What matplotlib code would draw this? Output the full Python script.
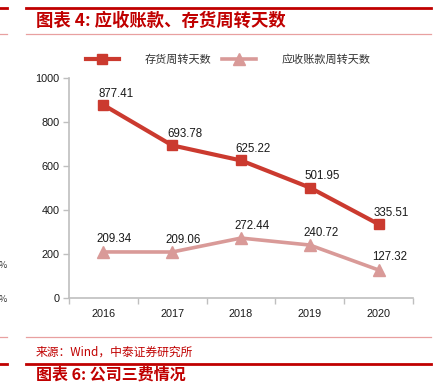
import matplotlib
matplotlib.use("Agg")
import matplotlib.pyplot as plt
from matplotlib.lines import Line2D

plt.rcParams['font.family'] = ['Noto Sans CJK SC', 'DejaVu Sans']

years = ["2016", "2017", "2018", "2019", "2020"]
inventory_days = [877.41, 693.78, 625.22, 501.95, 335.51]
receivable_days = [209.34, 209.06, 272.44, 240.72, 127.32]
series_names = ["存货周转天数", "应收账款周转天数"]
yticks = [0, 200, 400, 600, 800, 1000]

RED = "#CB3A2F"
PINK = "#D99A98"
TITLE_RED = "#C00000"
AXIS_GRAY = "#BFBFBF"
NUM_FONT = ['Liberation Sans', 'DejaVu Sans']

W, H = 434, 383
fig = plt.figure(figsize=(W / 100, H / 100), dpi=100)

def fx(px):
    return px / W

def fy(py):
    return 1 - py / H

# axes
ax = fig.add_axes([fx(69), fy(298), fx(413) - fx(69), fy(78) - fy(298)])
x = list(range(len(years)))
ax.plot(x, inventory_days, color=RED, lw=3.0, marker='s', ms=6.5,
        markeredgecolor=RED, markerfacecolor=RED, label=series_names[0], zorder=3)
ax.plot(x, receivable_days, color=PINK, lw=2.6, marker='^', ms=8,
        markeredgecolor=PINK, markerfacecolor=PINK, label=series_names[1], zorder=3)

for xi, v in zip(x, inventory_days):
    ax.annotate(f"{v:.2f}", (xi, v), xytext=(9, 8), textcoords='offset points',
                ha='center', va='center', fontsize=8.3, family=NUM_FONT, color='#1a1a1a')
for xi, v in zip(x, receivable_days):
    ax.annotate(f"{v:.2f}", (xi, v), xytext=(8, 9), textcoords='offset points',
                ha='center', va='center', fontsize=8.3, family=NUM_FONT, color='#1a1a1a')

ax.set_xlim(-0.5, len(years) - 0.5)
ax.set_ylim(0, 1000)
ax.set_yticks(yticks)
ax.set_yticklabels([str(t) for t in yticks], fontsize=7.8, family=NUM_FONT, color='#1a1a1a')
ax.set_xticks(x)
ax.set_xticklabels(years, fontsize=7.8, family=NUM_FONT, color='#1a1a1a')
ax.set_xticks([i - 0.5 for i in range(len(years) + 1)], minor=True)
ax.tick_params(axis='x', which='major', length=0, pad=8)
ax.tick_params(axis='x', which='minor', length=4, color=AXIS_GRAY, width=1, direction='out')
ax.tick_params(axis='y', length=4, color=AXIS_GRAY, width=1, direction='out', pad=3)
for s in ['top', 'right']:
    ax.spines[s].set_visible(False)
for s in ['left', 'bottom']:
    ax.spines[s].set_color(AXIS_GRAY)
    ax.spines[s].set_linewidth(1.2)
ax.set_facecolor('none')

leg = ax.legend(loc='center', bbox_to_anchor=(fx(228), fy(60)), bbox_transform=fig.transFigure,
                ncol=2, frameon=False, prop={'family': ['Noto Sans CJK SC'], 'size': 8, 'weight': 'light'},
                handlelength=3.0, handletextpad=2.3, columnspacing=1.0, borderpad=0)
for t in leg.get_texts():
    t.set_color('#333333')

# page decoration
def hline(y, x0, x1, color, lw):
    fig.add_artist(Line2D([fx(x0), fx(x1)], [fy(y), fy(y)], color=color, lw=lw,
                          transform=fig.transFigure))

hline(8, 26, 431, "#C00000", 2.0)
hline(8, 0, 7, "#C00000", 2.0)
hline(34, 26, 431, "#E8A0A0", 0.9)
hline(34, 0, 7, "#E8A0A0", 0.9)
hline(337, 26, 431, "#E8A0A0", 0.9)
hline(337, 0, 7, "#E8A0A0", 0.9)
hline(364, 26, 431, "#C00000", 2.0)
hline(364, 0, 7, "#C00000", 2.0)

fig.text(fx(36), fy(21), "图表 4: 应收账款、存货周转天数", fontsize=12.5, fontweight='bold',
         fontstyle='italic', color=TITLE_RED, va='center', ha='left')
fig.text(fx(36), fy(352), "来源：Wind，中泰证券研究所", fontsize=8.5, color=TITLE_RED,
         fontweight='light', va='center', ha='left')
fig.text(fx(36), fy(374.5), "图表 6: 公司三费情况", fontsize=11.5, fontweight='bold',
         fontstyle='italic', color=TITLE_RED, va='center', ha='left')
fig.text(fx(-1), fy(265), "%", fontsize=6.5, color='#333333', va='center', ha='left')
fig.text(fx(-1), fy(300), "%", fontsize=6.5, color='#333333', va='center', ha='left')

fig.savefig("out.png", dpi=100)
